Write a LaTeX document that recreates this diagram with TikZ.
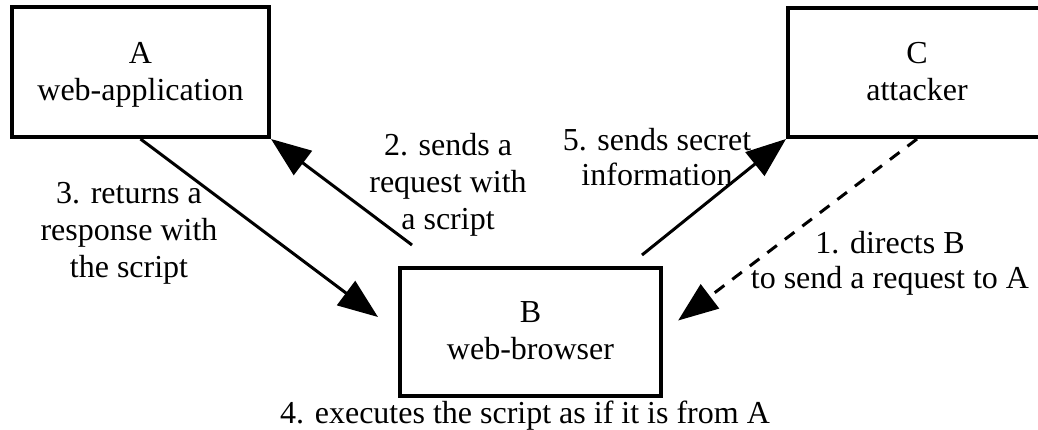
\documentclass[tikz,border=0pt]{standalone}
\usepackage{fontspec}
\setmainfont{Liberation Serif}
\usetikzlibrary{arrows.meta}
\begin{document}
\begin{tikzpicture}[x=1pt,y=-1pt,
  every node/.style={font=\fontsize{32}{37}\selectfont},
  box/.style={draw, line width=4pt, inner sep=0pt, align=center, text depth=2pt},
  flow/.style={line width=3pt, -{Triangle[length=40pt,width=30pt]}},
  lbl/.style={align=center, anchor=base, inner sep=0pt},
  tight/.style={font=\fontsize{32}{35}\selectfont}]
\useasboundingbox (0,0) rectangle (1038,429);

% parties
\node[box, minimum width=257pt, minimum height=130pt] (A) at (140.5,72) {A\\web-application};
\node[box, minimum width=258pt, minimum height=129pt] (C) at (917,72.5) {C\\attacker};
\node[box, minimum width=261pt, minimum height=128pt] (B) at (530.5,332) {B\\web-browser};

% loose ends of the request and leak arrows
\coordinate (s2) at (412,245);
\coordinate (s5) at (642,255);

% message flow
\draw[flow, dash pattern=on 12pt off 10pt, shorten >=19pt] (C.south) -- (B.east);
\draw[flow] (s2) -- (A.south east);
\draw[flow, shorten >=25pt] (A.south) -- (B.west);
\draw[flow] (s5) -- (C.south west);

% step labels (anchored at the baseline of their last line)
\node[lbl, tight] (l1) at (890,288) {1. directs B\\to send a request to A};
\node[lbl] (l2) at (448,229) {2. sends a\\request with\\a script};
\node[lbl] (l3) at (129,277) {3. returns a\\response with\\the script};
\node[lbl] (l4) at (525,423) {4. executes the script as if it is from A};
\node[lbl, tight] (l5) at (657,185) {5. sends secret\\information};
\end{tikzpicture}
\end{document}
